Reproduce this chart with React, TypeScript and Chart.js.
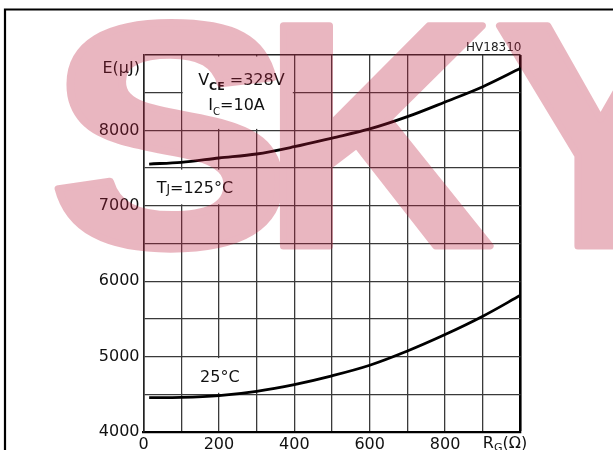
import React, { useEffect, useRef } from 'react';
import { Chart, registerables } from 'chart.js';

Chart.register(...registerables);

// Gate resistance R_G (Ω) sample points
const gateResistance = [15, 100, 200, 300, 400, 500, 600, 700, 800, 900, 1000];
// Switching energy E (μJ) at Tj = 125 °C
const energyTj125 = [7554, 7577, 7634, 7687, 7784, 7899, 8019, 8182, 8377, 8580, 8824];
// Switching energy E (μJ) at Tj = 25 °C
const energyTj25 = [4456, 4460, 4483, 4540, 4629, 4745, 4885, 5074, 5292, 5535, 5813];

// Values that carry a printed tick label
const xLabelledTicks = [0, 200, 400, 600, 800];
const yLabelledTicks = [4000, 5000, 6000, 7000, 8000];

const FONT = '"DejaVu Sans", sans-serif';
const INK = '#111';
const GRID = '#3a3a3a';

type Run = { text: string; size: number; dy?: number; weight?: string };

function drawRuns(ctx: CanvasRenderingContext2D, runs: Run[], x: number, y: number) {
  let cx = x;
  for (const r of runs) {
    ctx.font = `${r.weight || 'normal'} ${r.size}px ${FONT}`;
    ctx.fillText(r.text, cx, y + (r.dy || 0));
    cx += ctx.measureText(r.text).width;
  }
}

// White panels behind the in-plot captions (data units)
const captionPanels = [
  { x0: 100, x1: 400, y0: 8000, y1: 9000 },
  { x0: 0, x1: 300, y0: 7000, y1: 7500 },
  { x0: 100, x1: 300, y0: 4500, y1: 5000 },
];

// In-plot captions, anchored at their left baseline (data units)
const captions: { x: number; y: number; runs: Run[] }[] = [
  {
    x: 145,
    y: 8600,
    runs: [
      { text: 'V', size: 16 },
      { text: 'CE', size: 11, dy: 5, weight: 'bold' },
      { text: ' =328V', size: 16 },
    ],
  },
  {
    x: 172,
    y: 8270,
    runs: [
      { text: 'I', size: 16 },
      { text: 'C', size: 10, dy: 5 },
      { text: '=10A', size: 16 },
    ],
  },
  {
    x: 35,
    y: 7175,
    runs: [
      { text: 'T', size: 16 },
      { text: 'J', size: 12 },
      { text: '=125°C', size: 16 },
    ],
  },
  {
    x: 150,
    y: 4665,
    runs: [{ text: '25°C', size: 16 }],
  },
];

// Watermark letters: glyph, left x, horizontal stretch
const watermarkLetters = [
  { ch: 'S', x: 48, sx: 1.15 },
  { ch: 'K', x: 262, sx: 1 },
  { ch: 'Y', x: 494, sx: 1 },
];

function drawWatermark(ctx: CanvasRenderingContext2D, width: number, height: number) {
  const layer = document.createElement('canvas');
  layer.width = width;
  layer.height = height;
  const lc = layer.getContext('2d');
  if (!lc) return;
  lc.fillStyle = 'rgb(190,30,62)';
  lc.strokeStyle = 'rgb(190,30,62)';
  lc.lineWidth = 7;
  lc.lineJoin = 'round';
  lc.font = `bold 320px "Liberation Sans", sans-serif`;
  lc.textBaseline = 'alphabetic';
  for (const l of watermarkLetters) {
    lc.save();
    lc.translate(l.x, 246);
    lc.scale(l.sx, 1);
    lc.fillText(l.ch, 0, 0);
    lc.strokeText(l.ch, 0, 0);
    lc.restore();
  }
  ctx.save();
  ctx.globalAlpha = 0.32;
  ctx.drawImage(layer, 0, 0);
  ctx.restore();
}

const decorations = {
  id: 'decorations',
  beforeDraw(chart: any) {
    const { ctx, width, height } = chart;
    ctx.save();
    ctx.fillStyle = '#fff';
    ctx.fillRect(0, 0, width, height);
    ctx.strokeStyle = '#000';
    ctx.lineWidth = 2.2;
    ctx.beginPath();
    ctx.moveTo(5, height + 4);
    ctx.lineTo(5, 9.5);
    ctx.lineTo(width + 4, 9.5);
    ctx.stroke();
    ctx.restore();
  },
  beforeDatasetsDraw(chart: any) {
    const { ctx } = chart;
    const xs = chart.scales.x;
    const ys = chart.scales.y;
    ctx.save();
    ctx.fillStyle = '#fff';
    for (const p of captionPanels) {
      const l = xs.getPixelForValue(p.x0) + 1.5;
      const r = xs.getPixelForValue(p.x1) - 1.5;
      const t = ys.getPixelForValue(p.y1) + 1.5;
      const b = ys.getPixelForValue(p.y0) - 1.5;
      ctx.fillRect(l, t, r - l, b - t);
    }
    ctx.restore();
  },
  afterDatasetsDraw(chart: any) {
    const { ctx, chartArea } = chart;
    const xs = chart.scales.x;
    const ys = chart.scales.y;
    ctx.save();
    ctx.fillStyle = INK;
    ctx.textBaseline = 'alphabetic';
    ctx.textAlign = 'left';
    for (const c of captions) {
      drawRuns(ctx, c.runs, xs.getPixelForValue(c.x), ys.getPixelForValue(c.y));
    }
    // axis titles
    ctx.textAlign = 'right';
    ctx.font = `16px ${FONT}`;
    ctx.fillText('E(μJ)', chartArea.left - 3.5, chartArea.top + 18);
    ctx.font = `12px ${FONT}`;
    ctx.fillStyle = '#222';
    ctx.fillText('HV18310', chartArea.right + 1, chartArea.top - 4.5);
    ctx.textAlign = 'left';
    ctx.fillStyle = INK;
    drawRuns(
      ctx,
      [
        { text: 'R', size: 16 },
        { text: 'G', size: 11, dy: 3 },
        { text: '(Ω)', size: 16 },
      ],
      xs.getPixelForValue(900),
      chartArea.bottom + 16
    );
    ctx.restore();
  },
  afterDraw(chart: any) {
    drawWatermark(chart.ctx, chart.width, chart.height);
  },
};

export default function App() {
  const canvasRef = useRef<HTMLCanvasElement | null>(null);

  useEffect(() => {
    const canvas = canvasRef.current;
    if (!canvas) return;

    const points = (ys: number[]) => gateResistance.map((x, i) => ({ x, y: ys[i] }));
    const lineStyle = {
      borderColor: '#000',
      borderWidth: 2.8,
      pointRadius: 0,
      fill: false,
      cubicInterpolationMode: 'monotone' as const,
    };

    const chart = new Chart(canvas, {
      type: 'line',
      data: {
        datasets: [
          { label: 'Tj=125°C', data: points(energyTj125), ...lineStyle },
          { label: '25°C', data: points(energyTj25), ...lineStyle },
        ],
      },
      options: {
        responsive: false,
        animation: false,
        events: [],
        layout: { padding: { left: 0, top: 55, right: 92.5, bottom: 0 } },
        plugins: { legend: { display: false }, tooltip: { enabled: false } },
        scales: {
          x: {
            type: 'linear',
            min: 0,
            max: 1000,
            afterFit: (s: any) => {
              s.height = 18;
            },
            ticks: {
              stepSize: 100,
              autoSkip: false,
              maxRotation: 0,
              padding: 3,
              color: INK,
              font: { family: FONT, size: 16 },
              callback: (v: any) => (xLabelledTicks.includes(Number(v)) ? String(v) : ''),
            },
            grid: {
              drawTicks: false,
              color: (c: any) => (c.tick && c.tick.value === 1000 ? '#000' : GRID),
              lineWidth: (c: any) => (c.tick && c.tick.value === 1000 ? 2.6 : 1.3),
            },
            border: { color: '#000', width: 2.2 },
          },
          y: {
            type: 'linear',
            min: 4000,
            max: 9000,
            afterFit: (s: any) => {
              s.width = 143.5;
            },
            ticks: {
              stepSize: 500,
              autoSkip: false,
              padding: 4,
              color: INK,
              font: { family: FONT, size: 16 },
              callback: (v: any) => (yLabelledTicks.includes(Number(v)) ? String(v) : ''),
            },
            grid: {
              drawTicks: false,
              color: (c: any) => (c.tick && c.tick.value === 9000 ? '#222' : GRID),
              lineWidth: (c: any) => (c.tick && c.tick.value === 9000 ? 1.6 : 1.3),
            },
            border: { color: '#222', width: 1.6 },
          },
        },
      },
      plugins: [decorations],
    });

    return () => chart.destroy();
  }, []);

  return (
    <div style={{ position: 'fixed', left: 0, top: 0, width: 613, height: 450, background: '#fff' }}>
      <canvas ref={canvasRef} width={613} height={450} />
    </div>
  );
}
